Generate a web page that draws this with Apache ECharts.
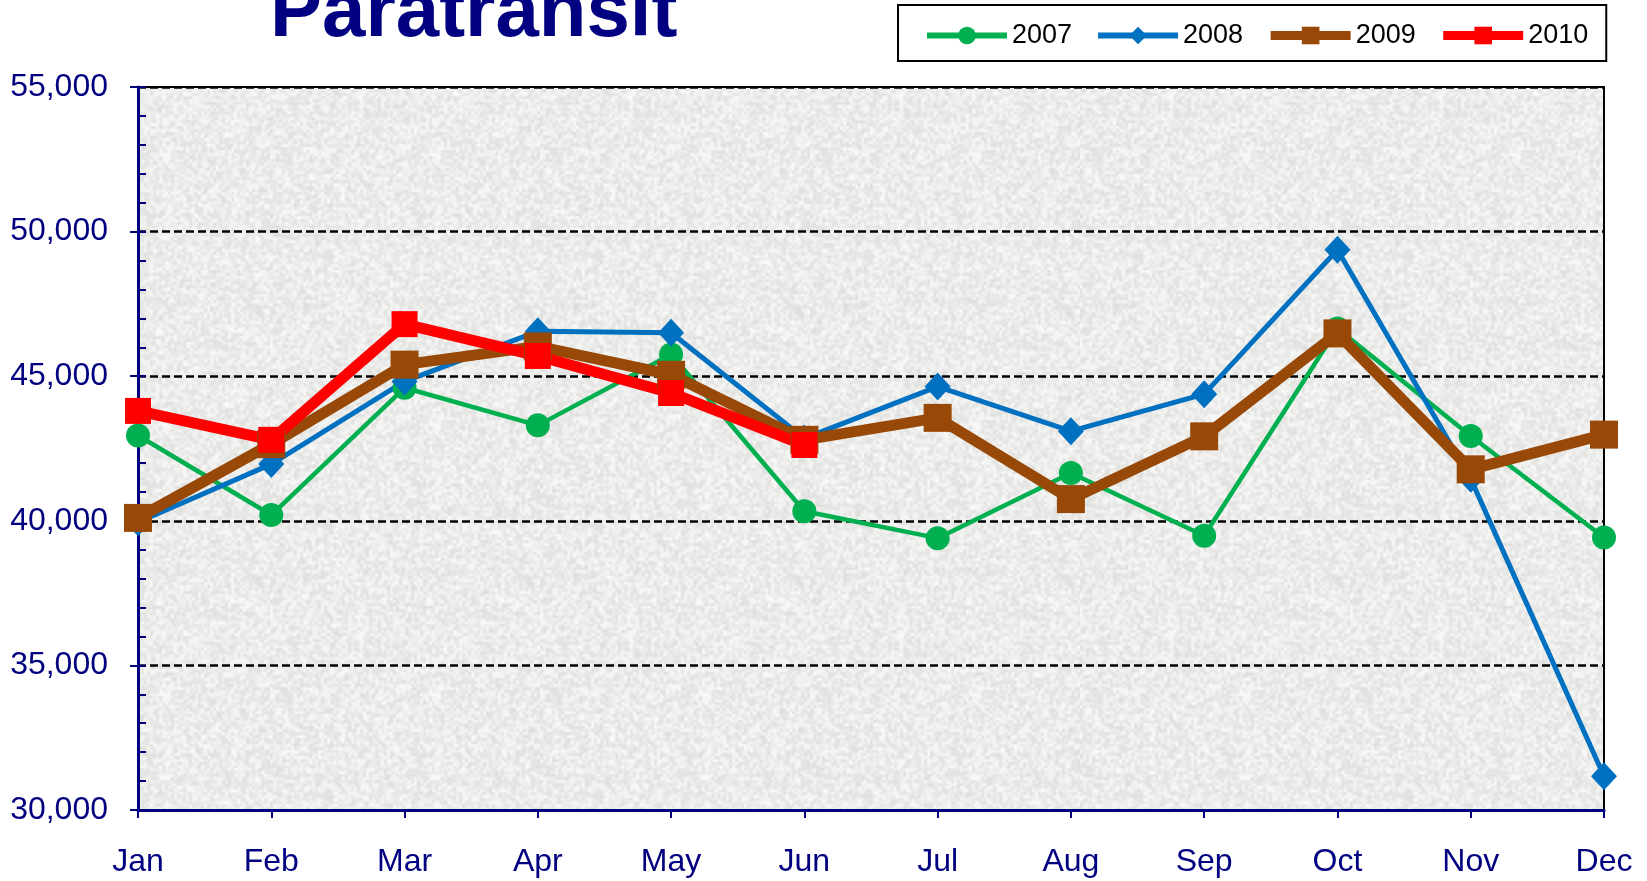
<!DOCTYPE html>
<html>
<head>
<meta charset="utf-8">
<script src="https://cdn.jsdelivr.net/npm/echarts@6/dist/echarts.min.js"></script>
<style>
html, body { margin: 0; padding: 0; background: #fff; }
#main { width: 1647px; height: 881px; }
</style>
</head>
<body>
<div id="main"></div>
<script>
// months and monthly ridership per year
var months = ['Jan', 'Feb', 'Mar', 'Apr', 'May', 'Jun', 'Jul', 'Aug', 'Sep', 'Oct', 'Nov', 'Dec'];
var y2007 = [42950, 40200, 44600, 43300, 45750, 40330, 39400, 41650, 39480, 46650, 42930, 39420];
var y2008 = [39950, 41960, 44820, 46550, 46500, 42850, 44640, 43100, 44380, 49370, 41450, 31170];
var y2009 = [40100, 42650, 45400, 46030, 45050, 42800, 43560, 40750, 42920, 46480, 41780, 42980];
var y2010 = [43800, 42800, 46800, 45700, 44420, 42620];

var navy = '#000080';
var font = 'Arial, "Liberation Sans", sans-serif';

// grey paper-like texture for the plot area (fixed seed, decoration only)
function makeTexture() {
    var n = 90;
    var small = document.createElement('canvas');
    small.width = small.height = n;
    var sctx = small.getContext('2d');
    var img = sctx.createImageData(n, n);
    var seed = 20100;
    function next() {
        seed = (seed * 1103515245 + 12345) & 0x7fffffff;
        return seed / 0x7fffffff;
    }
    for (var i = 0; i < n * n; i++) {
        var v = Math.round(222 + next() * 28);
        img.data[i * 4] = v;
        img.data[i * 4 + 1] = v;
        img.data[i * 4 + 2] = v - 2;
        img.data[i * 4 + 3] = 255;
    }
    sctx.putImageData(img, 0, 0);
    var c = document.createElement('canvas');
    c.width = c.height = n * 3;
    var ctx = c.getContext('2d');
    ctx.imageSmoothingEnabled = true;
    ctx.drawImage(small, 0, 0, n * 3, n * 3);
    return c;
}

var myChart = echarts.init(document.getElementById('main'));
myChart.setOption({
    animation: false,
    backgroundColor: '#fff',
    title: {
        text: 'Paratransit',
        left: 270,
        top: -25,
        padding: 0,
        textStyle: { color: navy, fontSize: 78, fontWeight: 'bold', fontFamily: font }
    },
    legend: {
        left: 898,
        top: 5,
        padding: [17, 18, 12, 26],
        borderColor: '#000',
        borderWidth: 2,
        itemWidth: 80,
        itemHeight: 22,
        itemGap: 23,
        textStyle: { color: '#000', fontSize: 27, fontFamily: font },
        data: [
            { name: '2007', lineStyle: { width: 6 } },
            { name: '2008', lineStyle: { width: 6 } },
            { name: '2009', lineStyle: { width: 9 } },
            { name: '2010', lineStyle: { width: 9 } }
        ]
    },
    grid: {
        left: 138,
        right: 43,
        top: 87,
        bottom: 71,
        show: true,
        backgroundColor: { image: makeTexture(), repeat: 'repeat' },
        borderColor: '#000',
        borderWidth: 2
    },
    xAxis: {
        type: 'category',
        boundaryGap: false,
        data: months,
        axisLine: { lineStyle: { color: navy, width: 3 } },
        axisTick: { length: 8, lineStyle: { color: navy, width: 2 } },
        axisLabel: { color: navy, fontSize: 32, fontFamily: font, margin: 36 },
        splitLine: { show: false }
    },
    yAxis: [{
        type: 'value',
        min: 30000,
        max: 55000,
        interval: 5000,
        axisLine: { show: true, lineStyle: { color: navy, width: 3 } },
        axisTick: { show: true, length: 8, lineStyle: { color: navy, width: 2 } },
        axisLabel: {
            color: navy, fontSize: 32, fontFamily: font, margin: 30,
            formatter: function (v) { return v.toLocaleString('en-US'); }
        },
        splitLine: { lineStyle: { color: '#000', width: 2.5, type: [8, 4] } }
    }, {
        // minor ticks on the inner side
        type: 'value',
        position: 'left',
        min: 30000,
        max: 55000,
        interval: 1000,
        axisLine: { show: false },
        axisTick: { show: true, inside: true, length: 8, lineStyle: { color: navy, width: 2 } },
        axisLabel: { show: false },
        splitLine: { show: false }
    }],
    series: [{
        name: '2007',
        type: 'line',
        data: y2007,
        symbol: 'circle',
        symbolSize: 24,
        lineStyle: { color: '#00B050', width: 4.5 },
        itemStyle: { color: '#00B050' }
    }, {
        name: '2008',
        type: 'line',
        data: y2008,
        symbol: 'diamond',
        symbolSize: [26, 28],
        lineStyle: { color: '#0070C0', width: 5 },
        itemStyle: { color: '#0070C0' }
    }, {
        name: '2009',
        type: 'line',
        data: y2009,
        symbol: 'rect',
        symbolSize: 28,
        lineStyle: { color: '#984807', width: 11 },
        itemStyle: { color: '#984807' }
    }, {
        name: '2010',
        type: 'line',
        data: y2010,
        symbol: 'rect',
        symbolSize: 26,
        lineStyle: { color: '#FF0000', width: 11 },
        itemStyle: { color: '#FF0000' }
    }]
});
</script>
</body>
</html>
